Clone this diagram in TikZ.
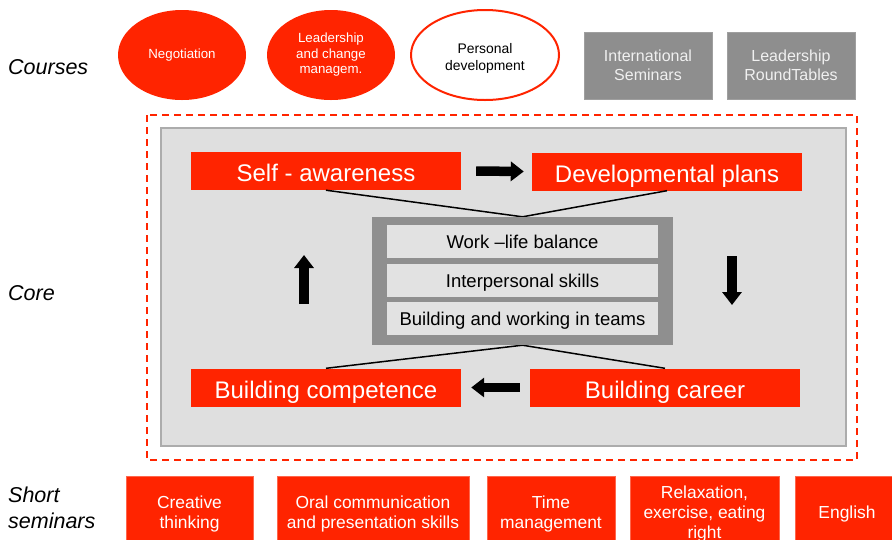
\documentclass[tikz,border=0pt]{standalone}
\usepackage{fontspec}
\setmainfont{Liberation Sans}
\usetikzlibrary{arrows.meta,shapes.geometric}
\definecolor{myred}{RGB}{255,36,0}
\definecolor{boxgray}{RGB}{142,142,142}
\definecolor{bggray}{RGB}{223,223,223}
\definecolor{bgedge}{RGB}{172,172,172}
\definecolor{framegray}{RGB}{143,143,143}
\definecolor{rowgray}{RGB}{226,226,226}
\begin{document}
\begin{tikzpicture}[x=1pt,y=-1pt,
  lbl/.style={anchor=west, font=\fontsize{21.5}{26}\selectfont\itshape, inner sep=0, align=left},
  course/.style={ellipse, minimum width=128pt, minimum height=90pt, fill=myred, text=white, align=center, font=\fontsize{13.3}{15.5}\selectfont, inner sep=0},
  coursew/.style={ellipse, minimum width=148pt, minimum height=90pt, fill=white, draw=myred, line width=2pt, text=black, align=center, font=\fontsize{13.9}{17}\selectfont, inner sep=0},
  graybox/.style={rectangle, minimum width=128pt, minimum height=67pt, fill=boxgray, draw=boxgray!85!white, line width=0.6pt, text=white!94!black, align=center, font=\fontsize{16}{19}\selectfont, inner sep=0},
  corebox/.style={rectangle, minimum width=270pt, minimum height=38pt, fill=myred, text=white, font=\fontsize{24}{28}\selectfont, inner sep=0, text height=21pt, text depth=0pt},
  rowbox/.style={rectangle, minimum width=271pt, minimum height=33pt, fill=rowgray, text=black, font=\fontsize{18.5}{22}\selectfont, inner sep=0, text height=14pt, text depth=0pt},
  seminar/.style={rectangle, minimum height=76pt, fill=myred, draw=myred!70!white, line width=0.6pt, text=white, align=center, font=\fontsize{17.4}{20}\selectfont, inner sep=0},
  bigarrow/.style={line width=9.5pt, black, -{Triangle[width=19pt,length=13pt]}},
  link/.style={line width=1.5pt, black}
]
\useasboundingbox (0,0) rectangle (892,539);
\clip (0,0) rectangle (892,539);
\fill[white] (0,0) rectangle (892,539);

% row labels
\node[lbl] (lcourses) at (8,67) {Courses};
\node[lbl] (lcore) at (8,293) {Core};
\node[lbl] (lshort) at (8,508) {Short\\seminars};

% courses
\node[course] (neg) at (182,55) {Negotiation};
\node[course] (lead) at (331,55) {Leadership\\and change\\managem.};
\node[coursew] (pers) at (485,55) {};
\node[align=center, font=\fontsize{13.9}{17}\selectfont, inner sep=0] (perst) at (485,58) {Personal\\development};
\node[graybox] (intl) at (648,65.5) {International\\Seminars};
\node[graybox] (round) at (791,65.5) {Leadership\\RoundTables};

% core area
\draw[myred, line width=2pt, dash pattern=on 7pt off 5pt] (147,115) rectangle (857,460);
\draw[fill=bggray, draw=bgedge, line width=1.5pt] (161,128) rectangle (846,446);

\node[rectangle, fill=framegray, minimum width=301pt, minimum height=128pt, inner sep=0] (frame) at (522.5,281) {};
\node[corebox] (sa) at (326,171) {Self - awareness};
\node[corebox] (dp) at (667,171.5) {Developmental plans};
\node[corebox] (bc) at (326,387.5) {Building competence};
\node[corebox] (bcar) at (665,387.5) {Building career};

\draw[link] (sa.south) -- (frame.north) -- (dp.south);
\draw[link] (bc.north) -- (frame.south) -- (bcar.north);
\node[rectangle, fill=framegray, minimum width=301pt, minimum height=128pt, inner sep=0] at (frame.center) {};

\node[rowbox] (r1) at (522.5,241.5) {Work –life balance};
\node[rowbox] (r2) at (522.5,280.5) {Interpersonal skills};
\node[rowbox] (r3) at (522.5,318) {Building and working in teams};

\draw[bigarrow] ([xshift=15pt]sa.east) -- ([xshift=-8pt]dp.west);
\draw[bigarrow] ([xshift=-10pt]bcar.west) -- ([xshift=10pt]bc.east);
\coordinate (upA) at (304,304);
\coordinate (upB) at (304,255);
\coordinate (dnA) at (732,256);
\coordinate (dnB) at (732,305);
\draw[bigarrow] (upA) -- (upB);
\draw[bigarrow] (dnA) -- (dnB);

% short seminars
\node[seminar, minimum width=127pt] (creative) at (189.5,514) {Creative\\thinking};
\node[seminar, minimum width=192pt] (oral) at (373,514) {Oral communication\\and presentation skills};
\node[seminar, minimum width=128pt] (time) at (551,514) {Time\\management};
\node[seminar, minimum width=149pt] (relax) at (704.5,514) {Relaxation,\\exercise, eating\\right};
\node[seminar, minimum width=104pt] (eng) at (847,514) {English};
\end{tikzpicture}
\end{document}
